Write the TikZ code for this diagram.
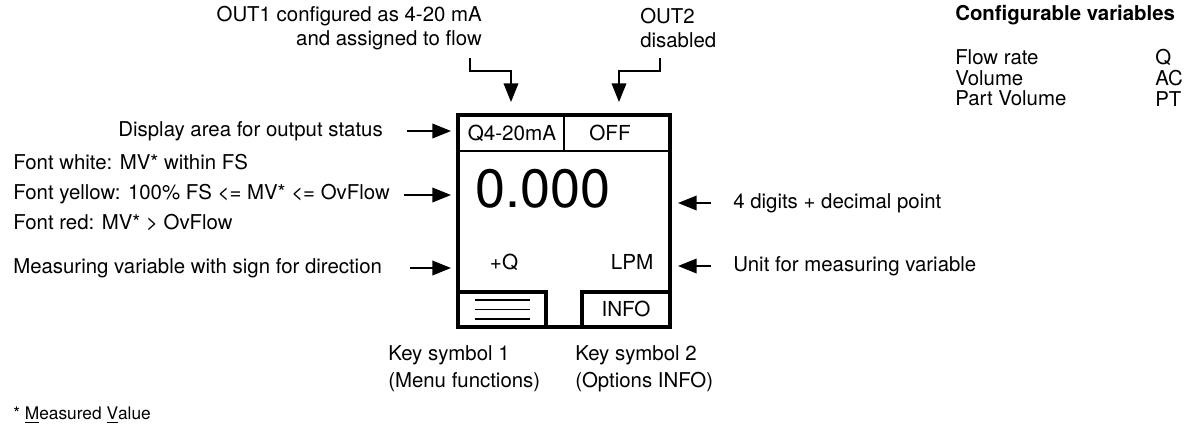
\documentclass[tikz,border=0pt]{standalone}
\usepackage{fontspec}
\setmainfont{TeX Gyre Heros}
\usetikzlibrary{arrows.meta}

\tikzset{
  pointer/.style={-{Triangle[length=14pt,width=11pt]}, line width=1.1pt},
  frame/.style={line width=3.4pt},
  divider/.style={line width=1pt},
  callout/.style={inner sep=0pt, font=\fontsize{15.3}{18}\selectfont},
  screentext/.style={inner sep=0pt, font=\fontsize{15.5}{18}\selectfont},
}

\begin{document}
\begin{tikzpicture}[x=0.75pt, y=-0.75pt]
    \useasboundingbox (0,0) rectangle (1184,430);
    % the display frame and the status fields
    \draw[frame] (458,115) rectangle (670,327);
    \draw[divider] (458,151) -- (670,151);
    \draw[divider] (564,115) -- (564,151);
    \draw (512,133) node[screentext] (out1-status) {Q4-20mA};
    \draw (610,133) node[screentext] (out2-status) {OFF};
    % measured value, sign and unit
    \draw (543,189) node[inner sep=0pt, font=\fontsize{40.5}{44}\selectfont] (value) {0.000};
    \draw (504,262) node[screentext] (sign) {+Q};
    \draw (632,262) node[screentext] (unit) {LPM};
    % the two keys
    \draw[frame] (458,292) rectangle (546,327);
    \draw[frame] (582,292) rectangle (670,327);
    \draw[line width=1.2pt] (475,300) -- (530,300);
    \draw[line width=1.2pt] (475,309.5) -- (530,309.5);
    \draw[line width=1.2pt] (475,319) -- (530,319);
    \draw (626,309) node[screentext] (info-key) {INFO};

    % output labels on top
    \draw (482,28) node[callout, anchor=east, align=right, font=\fontsize{15.3}{18}\selectfont] (out1-label) {OUT1 configured as 4-20 mA\\and assigned to flow};
    \draw (640,28) node[callout, anchor=west, align=left, font=\fontsize{15.3}{18}\selectfont] (out2-label) {OUT2\\disabled};
    \coordinate (out1-foot) at (470,58);
    \coordinate (out1-tip) at (511,102);
    \coordinate (out2-foot) at (660,58);
    \coordinate (out2-tip) at (619,102);
    \draw[pointer] (out1-foot) -- ++(0,13) -| (out1-tip);
    \draw[pointer] (out2-foot) -- ++(0,13) -| (out2-tip);

    % labels on the left
    \draw (383,131) node[callout, anchor=east] (status-label) {Display area for output status};
    \draw (13,193) node[callout, anchor=west, align=left, font=\fontsize{15.3}{22.5}\selectfont] (colour-label) {Font white: MV* within FS\\Font yellow: 100\% FS <= MV* <= OvFlow\\Font red: MV* > OvFlow};
    \draw (13,268) node[callout, anchor=west] (sign-label) {Measuring variable with sign for direction};
    \coordinate (status-tip) at (451,131);
    \coordinate (colour-tip) at (451,195);
    \coordinate (sign-tip) at (451,268);
    \draw[pointer] ([xshift=18pt]status-label.east) -- (status-tip);
    \draw[pointer] ([xshift=10.5pt,yshift=-1.5pt]colour-label.east) -- (colour-tip);
    \draw[pointer] ([xshift=21pt]sign-label.east) -- (sign-tip);

    % labels on the right
    \draw (733,203) node[callout, anchor=west] (digits-label) {4 digits + decimal point};
    \draw (733,266) node[callout, anchor=west] (unit-label) {Unit for measuring variable};
    \coordinate (digits-tip) at (678,203);
    \coordinate (unit-tip) at (678,266);
    \draw[pointer] ([xshift=-16.5pt]digits-label.west) -- (digits-tip);
    \draw[pointer] ([xshift=-16.5pt]unit-label.west) -- (unit-tip);

    % key labels below
    \draw (388,368.5) node[callout, anchor=west, align=left, font=\fontsize{15.3}{20}\selectfont] (key1-label) {Key symbol 1\\(Menu functions)};
    \draw (575,368.5) node[callout, anchor=west, align=left, font=\fontsize{15.3}{20}\selectfont] (key2-label) {Key symbol 2\\(Options INFO)};

    % table of configurable variables
    \draw (955,15) node[callout, anchor=west, font=\bfseries\fontsize{15.3}{18}\selectfont] (table-title) {Configurable variables};
    \draw (955,78) node[callout, anchor=west, align=left, font=\fontsize{15.3}{15.5}\selectfont] (table-names) {Flow rate\\Volume\\Part Volume};
    \draw (1155,78) node[callout, anchor=west, align=left, font=\fontsize{15.3}{15.5}\selectfont] (table-codes) {Q\\AC\\PT};

    % footnote
    \draw (13,415) node[callout, anchor=west, font=\fontsize{13}{15}\selectfont] (footnote) {* \underline{M}easured \underline{V}alue};
\end{tikzpicture}
\end{document}
